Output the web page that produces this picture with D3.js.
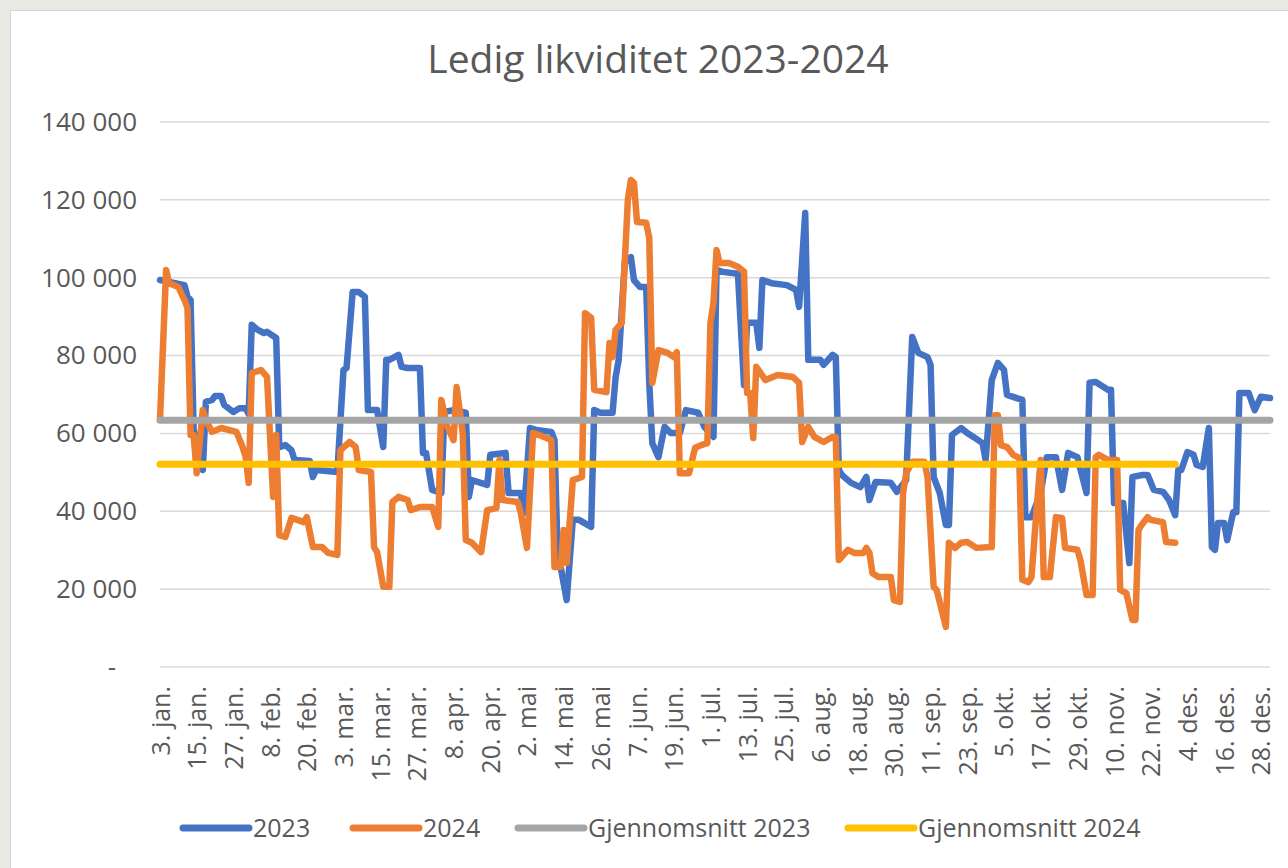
<!DOCTYPE html>
<html>
<head>
<meta charset="utf-8">
<style>
  body { margin: 0; background: #e9e9e4; }
  svg { display: block; }
  text { font-family: "Open Sans", sans-serif; fill: #595959; }
</style>
</head>
<body>
  <svg id="chart"></svg>
</body>
<script src="https://cdn.jsdelivr.net/npm/d3@7"></script>
<script>
  const WIDTH = 1288
  const HEIGHT = 868

  // first and last day on the category axis (one category per calendar day)
  const firstDay = '2024-01-03'
  const lastDay = '2024-12-31'
  const monthNames = ['jan.', 'feb.', 'mar.', 'apr.', 'mai', 'jun.', 'jul.', 'aug.', 'sep.', 'okt.', 'nov.', 'des.']
  const labelEvery = 12

  const yTicks = [0, 20000, 40000, 60000, 80000, 100000, 120000, 140000]

  // [day index, value in thousands]
  const series2023 = [
    [0, 99.4], [8, 98.1], [9, 95.1], [10, 94.3], [11, 60.9], [12, 58.3], [14, 50.6], [15, 68.1],
    [17, 68.6], [18, 69.6], [20, 69.6], [21, 67.3], [24, 65.5], [26, 66.5], [28, 66.5], [29, 65.0],
    [30, 87.9], [32, 86.6], [34, 85.8], [35, 86.1], [38, 84.5], [39, 56.5], [41, 57.0], [43, 55.7],
    [44, 53.2], [49, 52.9], [50, 48.8], [51, 50.6], [58, 50.1], [60, 76.3], [61, 76.8], [63, 96.3],
    [65, 96.3], [67, 95.1], [68, 66.0], [71, 66.0], [73, 56.5], [74, 78.9], [75, 78.9], [78, 80.2],
    [79, 77.1], [81, 76.8], [85, 76.8], [86, 55.0], [87, 55.0], [89, 45.5], [92, 44.7], [93, 65.5],
    [96, 66.0], [100, 65.3], [101, 43.7], [102, 48.0], [107, 46.8], [108, 54.5], [113, 55.0], [114, 44.7],
    [118, 44.7], [119, 39.6], [121, 61.4], [123, 60.9], [128, 60.4], [129, 58.3], [130, 30.1], [133, 17.2],
    [135, 37.8], [137, 37.8], [141, 36.0], [142, 66.0], [144, 65.3], [148, 65.3], [149, 74.5], [150, 78.9],
    [152, 104.0], [154, 105.3], [155, 99.4], [157, 97.6], [159, 97.6], [160, 73.0], [161, 57.5], [163, 53.9],
    [165, 61.7], [167, 60.1], [170, 60.1], [172, 66.0], [176, 65.3], [178, 61.7], [181, 59.1], [182, 102.0],
    [184, 101.5], [189, 101.0], [191, 72.4], [192, 88.4], [195, 88.4], [196, 82.0], [197, 99.4], [200, 98.6],
    [205, 98.1], [208, 96.9], [209, 92.5], [211, 116.6], [212, 78.9], [216, 78.9], [217, 77.6], [220, 80.2],
    [221, 79.6], [222, 50.6], [223, 49.3], [226, 47.3], [229, 46.2], [231, 48.8], [232, 42.9], [234, 47.5],
    [239, 47.3], [241, 45.0], [244, 48.0], [246, 84.8], [248, 80.7], [251, 79.6], [252, 77.6], [253, 48.8],
    [255, 44.7], [257, 36.5], [258, 36.5], [259, 59.6], [262, 61.4], [264, 60.1], [266, 59.1], [269, 57.5],
    [270, 53.2], [272, 73.7], [274, 78.1], [276, 76.3], [277, 69.9], [282, 68.6], [283, 38.5], [285, 38.5],
    [288, 44.7], [290, 53.9], [293, 53.9], [295, 45.5], [297, 55.0], [300, 53.9], [303, 44.7], [304, 73.0],
    [306, 73.2], [310, 71.2], [311, 71.2], [312, 42.1], [315, 42.1], [317, 26.7], [318, 48.8], [321, 49.3],
    [323, 49.3], [325, 45.5], [328, 45.0], [330, 42.9], [332, 39.0], [333, 50.6], [334, 50.6], [336, 55.2],
    [338, 54.5], [339, 51.9], [341, 51.4], [343, 61.4], [344, 30.8], [345, 30.1], [346, 37.0], [348, 37.0],
    [349, 32.6], [351, 39.8], [352, 39.8], [353, 70.4], [356, 70.4], [358, 66.0], [360, 69.4], [363, 69.1]
  ]

  const series2024 = [
    [0, 63.5], [2, 102.0], [3, 98.6], [6, 97.6], [8, 94.3], [9, 92.2], [10, 59.6], [11, 59.6],
    [12, 49.8], [14, 66.0], [15, 63.5], [17, 60.4], [20, 61.4], [25, 60.4], [27, 56.5], [28, 54.0],
    [29, 47.3], [30, 75.5], [33, 76.3], [35, 74.5], [37, 43.7], [38, 59.6], [39, 33.9], [41, 33.4],
    [43, 38.3], [47, 37.2], [48, 38.5], [50, 30.8], [53, 30.8], [55, 29.3], [58, 28.8], [59, 55.7],
    [62, 57.8], [64, 56.5], [65, 50.6], [69, 50.1], [70, 30.8], [71, 29.5], [73, 20.6], [75, 20.6],
    [76, 42.4], [78, 43.7], [81, 42.9], [82, 40.3], [85, 41.1], [89, 41.1], [91, 36.0], [92, 68.6],
    [94, 61.7], [96, 58.3], [97, 71.9], [99, 60.1], [100, 32.6], [102, 31.9], [105, 29.5], [107, 40.3],
    [110, 40.8], [111, 53.2], [112, 42.9], [117, 42.4], [118, 39.6], [120, 30.6], [122, 60.1], [124, 59.6],
    [128, 58.3], [129, 25.7], [131, 25.7], [132, 35.2], [133, 26.7], [135, 48.0], [138, 48.8], [139, 90.9],
    [141, 89.7], [142, 71.2], [146, 70.6], [147, 83.2], [148, 79.6], [149, 86.6], [151, 88.4], [153, 120.0],
    [154, 125.1], [155, 124.3], [156, 114.3], [159, 114.1], [160, 110.2], [161, 73.0], [163, 81.4], [166, 80.7],
    [168, 79.6], [169, 80.9], [170, 49.8], [173, 49.8], [175, 56.3], [177, 57.0], [179, 57.5], [180, 88.4],
    [181, 93.5], [182, 107.1], [183, 103.8], [186, 103.8], [189, 102.8], [191, 101.5], [192, 70.4], [193, 70.4],
    [194, 58.8], [195, 77.1], [198, 73.7], [202, 75.0], [207, 74.5], [209, 73.0], [210, 57.8], [212, 61.7],
    [214, 59.1], [217, 57.8], [220, 59.1], [221, 59.1], [222, 27.5], [225, 30.1], [227, 29.3], [230, 29.3],
    [231, 30.6], [232, 29.3], [233, 24.1], [235, 23.1], [239, 23.1], [240, 17.2], [242, 16.7], [243, 44.7],
    [244, 49.8], [246, 52.7], [250, 52.7], [251, 48.8], [253, 20.6], [254, 19.8], [257, 10.3], [258, 31.9],
    [260, 30.6], [262, 31.9], [264, 32.1], [267, 30.6], [272, 30.8], [273, 64.7], [274, 64.7], [275, 57.0],
    [277, 56.5], [279, 54.5], [281, 53.7], [282, 22.4], [284, 21.8], [285, 23.1], [287, 43.7], [288, 53.2],
    [289, 23.1], [291, 23.1], [293, 38.5], [295, 38.3], [296, 30.6], [300, 30.1], [301, 27.5], [303, 18.5],
    [305, 18.5], [306, 53.9], [307, 54.5], [310, 53.2], [313, 53.2], [314, 19.8], [316, 19.0], [318, 12.1],
    [319, 12.1], [320, 35.2], [321, 36.5], [323, 38.5], [324, 37.8], [328, 37.2], [329, 32.1], [332, 31.9]
  ]

  const avg2023 = 63.4
  const avg2024 = 52.1

  const legendNames = ['2023', '2024', 'Gjennomsnitt 2023', 'Gjennomsnitt 2024']
  const colors = ['#4472C4', '#ED7D31', '#A5A5A5', '#FFC000']

  let svg = d3.select('#chart')
    .attr('width', WIDTH)
    .attr('height', HEIGHT)

  // white chart area
  svg.append('rect')
    .attr('x', 10.5).attr('y', 10.5)
    .attr('width', WIDTH - 10).attr('height', HEIGHT - 10)
    .attr('fill', 'white')
    .attr('stroke', '#d4d4d0')

  const plot = { left: 160, right: 1270, top: 122, bottom: 667 }

  let days = d3.timeDay.range(new Date(firstDay + 'T00:00'), d3.timeDay.offset(new Date(lastDay + 'T00:00'), 1))
  let categories = days.map((d, i) => i)

  let x = d3.scalePoint()
    .domain(categories)
    .range([plot.left, plot.right])

  let y = d3.scaleLinear()
    .domain([0, 140000])
    .range([plot.bottom, plot.top])

  // title
  svg.append('text')
    .attr('x', 658)
    .attr('y', 73)
    .attr('text-anchor', 'middle')
    .style('font-size', '39px')
    .text('Ledig likviditet 2023-2024')

  // gridlines
  svg.append('g')
    .selectAll('line')
    .data(yTicks)
    .enter()
    .append('line')
    .attr('x1', plot.left)
    .attr('x2', plot.right)
    .attr('y1', d => y(d))
    .attr('y2', d => y(d))
    .attr('stroke', '#d9d9d9')
    .attr('stroke-width', 1.5)

  // y axis labels
  let fmt = d => d === 0 ? '-' : d3.format(',')(d).replace(/,/g, ' ')
  let yAxis = d3.axisLeft(y).tickValues(yTicks).tickFormat(fmt).tickSize(0).tickPadding(0)
  let yG = svg.append('g')
    .attr('transform', 'translate(137,0)')
    .call(yAxis)
  yG.select('.domain').remove()
  yG.selectAll('text')
    .style('font-family', '"Open Sans", sans-serif')
    .style('font-size', '26px')
    .attr('fill', '#595959')
    .attr('dx', d => d === 0 ? -21 : 0)

  // x axis labels, every 12th day
  let tickDays = categories.filter(i => i % labelEvery === 0)
  let xAxis = d3.axisBottom(x)
    .tickValues(tickDays)
    .tickFormat(i => days[i].getDate() + '. ' + monthNames[days[i].getMonth()])
    .tickSize(0)
    .tickPadding(0)
  let xG = svg.append('g')
    .attr('transform', `translate(0,${plot.bottom})`)
    .call(xAxis)
  xG.select('.domain').remove()
  xG.selectAll('text')
    .style('font-family', '"Open Sans", sans-serif')
    .style('font-size', '25px')
    .attr('fill', '#595959')
    .attr('text-anchor', 'end')
    .attr('transform', 'rotate(-90)')
    .attr('x', -19)
    .attr('y', 0)
    .attr('dy', '0.36em')

  // Draw one series
  function drawLine(data, color, width) {
    let line = d3.line()
      .x(d => x(d[0]))
      .y(d => y(d[1] * 1000))
    svg.append('path')
      .datum(data)
      .attr('d', line)
      .attr('fill', 'none')
      .attr('stroke', color)
      .attr('stroke-width', width)
      .attr('stroke-linejoin', 'round')
      .attr('stroke-linecap', 'round')
  }

  drawLine(series2023, colors[0], 6.5)
  drawLine(series2024, colors[1], 6.5)

  // average lines span the same days as their series
  let last2023 = series2023[series2023.length - 1][0]
  let last2024 = series2024[series2024.length - 1][0]
  drawLine([[0, avg2023], [last2023, avg2023]], colors[2], 7)
  drawLine([[0, avg2024], [last2024, avg2024]], colors[3], 7)

  // legend
  let legendX = [183, 353, 518, 848]
  let legend = svg.append('g')
  legendNames.forEach(function(name, i) {
    legend.append('line')
      .attr('x1', legendX[i])
      .attr('x2', legendX[i] + 66)
      .attr('y1', 828)
      .attr('y2', 828)
      .attr('stroke', colors[i])
      .attr('stroke-width', 7)
      .attr('stroke-linecap', 'round')
    legend.append('text')
      .attr('x', legendX[i] + 70)
      .attr('y', 828)
      .attr('dy', '0.35em')
      .style('font-size', '25px')
      .text(name)
  })
</script>
</html>
